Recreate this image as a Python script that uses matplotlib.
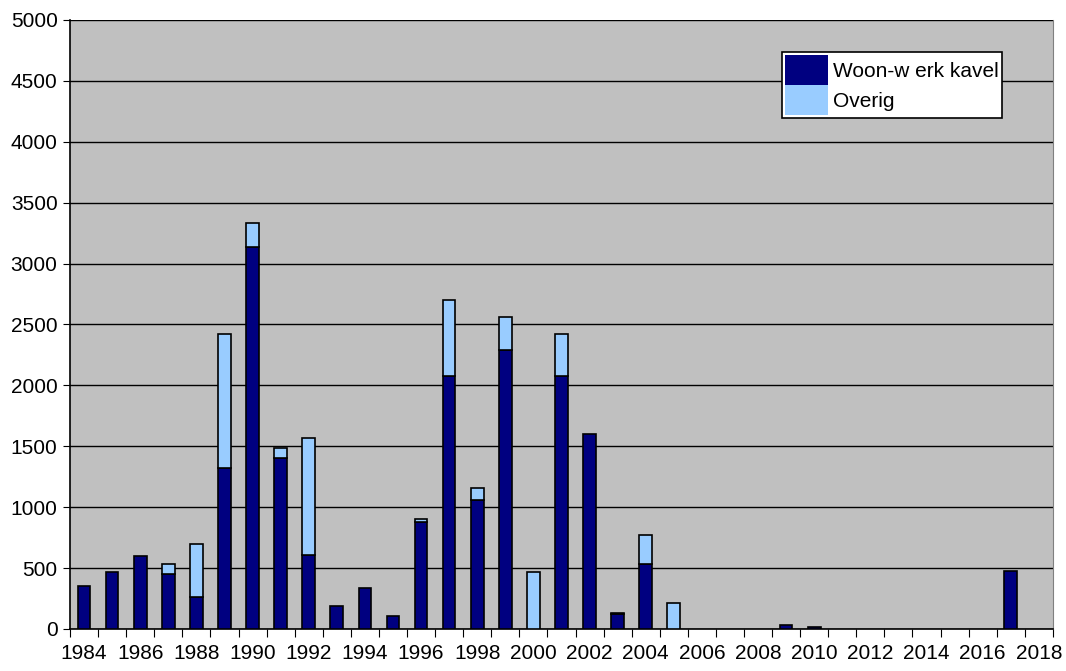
import numpy as np
import matplotlib.pyplot as plt

plt.rcParams['font.family'] = ['Liberation Sans', 'DejaVu Sans']

# Yearly totals per category
years = list(range(1984, 2019))
woon_werk = [350, 470, 600, 450, 260, 1320, 3140, 1400, 610, 190,
             340, 110, 880, 2080, 1060, 2290, 0, 2080, 1600, 120,
             530, 0, 0, 0, 0, 35, 20, 0, 0, 0,
             0, 0, 0, 480, 0]
overig = [0, 0, 0, 80, 435, 1100, 190, 90, 960, 0,
          0, 0, 20, 625, 95, 270, 470, 340, 0, 10,
          240, 210, 0, 0, 0, 0, 0, 0, 0, 0,
          0, 0, 0, 0, 0]

fig = plt.figure(figsize=(10.66, 6.71), dpi=100)
ax = fig.add_axes([0.0657, 0.0626, 0.922, 0.9076])
ax.set_facecolor('#C0C0C0')

x = np.arange(len(years))
w = np.array(woon_werk)
o = np.array(overig)
# skip empty segments so no stray outlines are drawn
mw = w > 0
mo = o > 0
ax.bar(x[mw], w[mw], width=0.45, color='#000080', edgecolor='black',
       linewidth=1.2, label='Woon-w erk kavel', zorder=3)
ax.bar(x[mo], o[mo], width=0.45, bottom=w[mo], color='#99CCFF',
       edgecolor='black', linewidth=1.2, label='Overig', zorder=3)

ax.set_xlim(-0.5, len(years) - 0.5)
ax.set_ylim(0, 5000)
ax.set_yticks(np.arange(0, 5001, 500))
ax.yaxis.grid(True, color='black', linewidth=1)
ax.set_axisbelow(True)

# category ticks between bars, labels every second year
ax.set_xticks(np.arange(-0.5, len(years)), minor=False)
ax.set_xticklabels([])
ax.set_xticks(x[::2], minor=True)
ax.set_xticklabels([str(y) for y in years[::2]], minor=True)
ax.tick_params(axis='x', which='minor', length=0, pad=11, labelsize=15)
ax.tick_params(axis='x', which='major', length=6, direction='out')
ax.tick_params(axis='y', length=5, direction='out', labelsize=15, pad=4)

for s in ['left', 'bottom']:
    ax.spines[s].set_color('black')
    ax.spines[s].set_linewidth(1.2)
ax.spines['right'].set_color('#808080')
ax.spines['top'].set_visible(False)

leg = ax.legend(loc='upper left', bbox_to_anchor=(0.724, 0.948),
                frameon=True, fancybox=False, edgecolor='black',
                facecolor='white', framealpha=1,
                fontsize=15, handlelength=2.1, handleheight=1.85,
                handletextpad=0.2, labelspacing=0.0, borderpad=0.15,
                borderaxespad=0)
leg.get_frame().set_linewidth(1.2)
for h in leg.legend_handles:
    h.set_edgecolor('none')

fig.savefig('out.png', dpi=100)
